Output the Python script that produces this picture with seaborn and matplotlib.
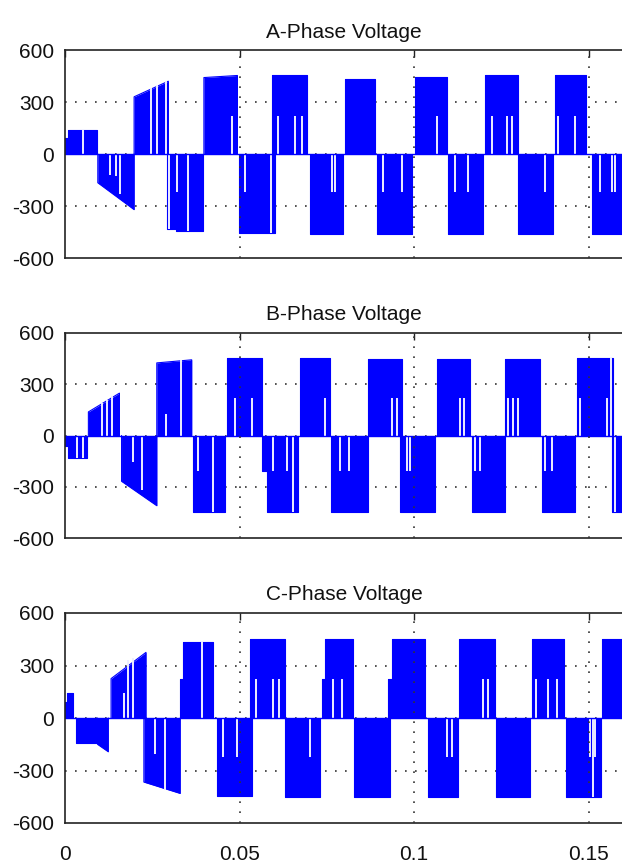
import matplotlib
matplotlib.use("Agg")
import matplotlib.pyplot as plt
import numpy as np
import pandas as pd
import seaborn as sns

# ---------------- data ----------------
titles = ["A-Phase Voltage", "B-Phase Voltage", "C-Phase Voltage"]
x_ticks = [0, 0.05, 0.1, 0.15]
x_tick_labels = ["0", "0.05", "0.1", "0.15"]
y_ticks = [-600, -300, 0, 300, 600]

# Phase A conduction blocks: start time, end time, level at start, level at end
A_start = [0.0, 0.0010, 0.0094, 0.0198, 0.0291, 0.0318, 0.0398, 0.0499, 0.0592, 0.0702,
           0.0802, 0.0895, 0.1003, 0.1098, 0.1203, 0.1299, 0.1404, 0.1509]
A_end = [0.0010, 0.0091, 0.0198, 0.0296, 0.0318, 0.0395, 0.0494, 0.0602, 0.0694, 0.0797,
         0.0888, 0.0993, 0.1094, 0.1199, 0.1299, 0.1399, 0.1493, 0.1600]
A_v0 = [90, 140, -166, 330, -430, -445, 441, -455, 453, -460,
        434, -460, 447, -460, 453, -460, 453, -460]
A_v1 = [90, 140, -321, 420, -430, -445, 453, -455, 453, -460,
        434, -460, 447, -460, 453, -460, 453, -460]
# PWM notches (white gaps from 0 to the given voltage)
A_notch_t = [0.0051, 0.0129, 0.0146, 0.0158, 0.0246, 0.0263, 0.0289, 0.0299, 0.0322, 0.0353,
             0.0479, 0.0516, 0.0590, 0.0610, 0.0659, 0.0678, 0.0764, 0.0774, 0.0912, 0.0965,
             0.1065, 0.1117, 0.1156, 0.1223, 0.1266, 0.1280, 0.1375, 0.1413, 0.1461, 0.1533,
             0.1567, 0.1576]
A_notch_v = [140, -119, -128, -232, 380, 400, 420, -430, -222, -445,
             221, -221, -455, 221, 221, 221, -221, -221, -221, -221,
             221, -221, -221, 221, 221, 221, -221, 221, 221, -221,
             -221, -221]

B_start = [0.0, 0.0008, 0.0067, 0.0162, 0.0263, 0.0366, 0.0463, 0.0564, 0.0578, 0.0673,
           0.0761, 0.0869, 0.0960, 0.1065, 0.1165, 0.1261, 0.1366, 0.1468, 0.1567]
B_end = [0.0008, 0.0064, 0.0156, 0.0263, 0.0363, 0.0458, 0.0564, 0.0578, 0.0667, 0.0759,
         0.0869, 0.0965, 0.1060, 0.1160, 0.1261, 0.1361, 0.1461, 0.1571, 0.1600]
B_v0 = [-60, -134, 138, -268, 425, -449, 455, -210, -449, 455,
        -449, 449, -449, 449, -449, 449, -449, 455, -449]
B_v1 = [-60, -134, 248, -411, 443, -449, 455, -210, -449, 455,
        -449, 449, -449, 449, -449, 449, -449, 455, -449]
B_notch_t = [0.0035, 0.0052, 0.0105, 0.0119, 0.0134, 0.0196, 0.0222, 0.0289, 0.0331, 0.0382,
             0.0425, 0.0487, 0.0537, 0.0597, 0.0635, 0.0652, 0.0745, 0.0788, 0.0815, 0.0936,
             0.0950, 0.0979, 0.0989, 0.1132, 0.1143, 0.1175, 0.1189, 0.1270, 0.1285, 0.1299,
             0.1374, 0.1395, 0.1476, 0.1554, 0.1564, 0.1576]
B_notch_v = [-134, -134, 190, 210, 230, -153, -320, 124, 440, -210,
             -449, 220, 220, -210, -210, -449, 220, -210, -210, 220,
             220, -210, -210, 220, 220, -210, -210, 220, 220, 220,
             -210, -210, 220, 220, 455, -449]

C_start = [0.0, 0.0005, 0.0032, 0.0093, 0.0132, 0.0226, 0.0330, 0.0338, 0.0435, 0.0530,
           0.0630, 0.0736, 0.0745, 0.0829, 0.0926, 0.0936, 0.1041, 0.1130, 0.1234, 0.1337,
           0.1435, 0.1538]
C_end = [0.0005, 0.0024, 0.0091, 0.0124, 0.0232, 0.0330, 0.0338, 0.0425, 0.0535, 0.0630,
         0.0731, 0.0745, 0.0824, 0.0931, 0.0936, 0.1032, 0.1127, 0.1232, 0.1332, 0.1430,
         0.1535, 0.1600]
C_v0 = [94, 141, -141, -150, 225, -366, 225, 437, -446, 450,
        -450, 225, 450, -450, 225, 450, -450, 450, -450, 450,
        -450, 450]
C_v1 = [94, 141, -141, -193, 375, -431, 225, 437, -446, 450,
        -450, 225, 450, -450, 225, 450, -450, 450, -450, 450,
        -450, 450]
C_notch_t = [0.0169, 0.0181, 0.0196, 0.0258, 0.0287, 0.0392, 0.0452, 0.0492, 0.0547, 0.0595,
             0.0614, 0.0702, 0.0769, 0.0793, 0.1094, 0.1108, 0.1197, 0.1213, 0.1351, 0.1385,
             0.1409, 0.1504, 0.1512, 0.1519]
C_notch_v = [141, 330, 345, -206, -410, 437, -225, -225, 225, 225,
             225, -225, 225, 225, -225, -225, 225, 225, 225, 225,
             225, -225, -450, -225]

# ---------------- styling ----------------
sns.set_style("white")
plt.rcParams["font.family"] = ["Liberation Sans", "DejaVu Sans"]

BLUE = "#0000ff"
GRID = "#333333"

phases = [
    (A_start, A_end, A_v0, A_v1, A_notch_t, A_notch_v),
    (B_start, B_end, B_v0, B_v1, B_notch_t, B_notch_v),
    (C_start, C_end, C_v0, C_v1, C_notch_t, C_notch_v),
]

W, H = 622, 868
fig = plt.figure(figsize=(W / 100, H / 100), dpi=100)

# axes boxes in pixels: left, top, bottom
boxes = [(65, 50, 258), (65, 333, 538), (65, 613, 823)]
px_per_unit = 3490.0
x_max = 0.16

for k, ((s_, e_, v0_, v1_, nt, nv), title, (L, T, B)) in enumerate(zip(phases, titles, boxes)):
    width_px = x_max * px_per_unit
    ax = fig.add_axes([L / W, (H - B) / H, width_px / W, (B - T) / H])

    rows = []
    for i, (s, e, v0, v1) in enumerate(zip(s_, e_, v0_, v1_)):
        rows += [(i, s, 0), (i, s, v0), (i, e, v1), (i, e, 0)]
    df = pd.DataFrame(rows, columns=["block", "t", "v"])

    for i, g in df.groupby("block"):
        ax.fill_between(g["t"].iloc[[1, 2]].values, g["v"].iloc[[1, 2]].values, 0,
                        color=BLUE, lw=0, zorder=2)
    sns.lineplot(data=df, x="t", y="v", units="block", estimator=None, sort=False,
                 color=BLUE, lw=0.8, ax=ax, zorder=2.1, legend=False)
    ax.vlines(nt, 0, nv, color="#eeeeff", lw=1.4, zorder=2.2)
    ax.axhline(0, color=BLUE, lw=1.0, zorder=2.3)

    # MATLAB-like dotted grid
    for y in [-300, 0, 300]:
        ax.axhline(y, color=GRID, lw=1.2, ls=(0, (1, 5)), zorder=1)
    for x in [0.05, 0.1, 0.15]:
        ax.axvline(x, color=GRID, lw=1.2, ls=(0, (1, 5)), zorder=3)

    ax.set_xlim(0, x_max)
    ax.set_ylim(-600, 600)
    ax.set_xticks(x_ticks)
    ax.set_yticks(y_ticks)
    ax.set_yticklabels([str(v) for v in y_ticks])
    if k == 2:
        ax.set_xticklabels(x_tick_labels)
    else:
        ax.set_xticklabels([])
    ax.set_xlabel("")
    ax.set_ylabel("")
    ax.tick_params(axis="both", direction="in", length=5, width=1.0, color="#222222",
                   labelsize=15, labelcolor="#111111", top=True)
    ax.tick_params(axis="y", pad=8)
    ax.tick_params(axis="x", pad=16)
    for side in ["left", "top", "bottom"]:
        ax.spines[side].set_color("#222222")
        ax.spines[side].set_linewidth(1.2)
    ax.spines["right"].set_visible(False)
    ax.set_title(title, fontsize=15, pad=9, color="#111111")

fig.savefig("out.png", dpi=100)
